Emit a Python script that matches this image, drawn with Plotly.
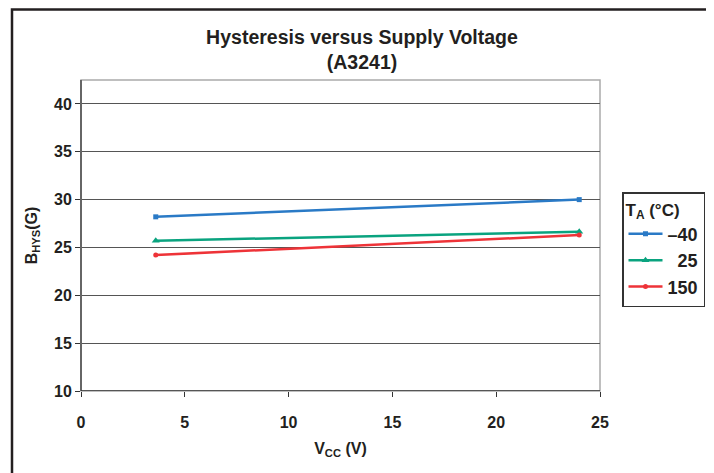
import plotly.graph_objects as go

vcc = [3.6, 24.0]
b_m40 = [28.2, 30.0]
b_25 = [25.7, 26.65]
b_150 = [24.2, 26.3]
series_names = ["\u201340", "  25", "150"]
x_ticks = [0, 5, 10, 15, 20, 25]
y_ticks = [10, 15, 20, 25, 30, 35, 40]

FONT = "Liberation Sans, Arial, sans-serif"
OFF = 8  # page body offset
W, H = 714 - OFF, 473 - OFF
# screen-space plot area
SX0, SX1, SY0, SY1 = 81, 600, 80, 391
L, T = SX0 - OFF, SY0 - OFF
pw, ph = SX1 - SX0, SY1 - SY0
R, B = W - L - pw, H - T - ph

def px(x):
    return (x - SX0) / pw

def py(y):
    return (SY1 - y) / ph

fig = go.Figure()
fig.add_trace(go.Scatter(x=vcc, y=b_m40, name=series_names[0], mode="lines+markers",
                         line=dict(color="#2a7ac6", width=2.5),
                         marker=dict(symbol="square", size=5, color="#2a7ac6")))
fig.add_trace(go.Scatter(x=vcc, y=b_25, name=series_names[1], mode="lines+markers",
                         line=dict(color="#0aa37f", width=2.5),
                         marker=dict(symbol="triangle-up", size=7, color="#0aa37f")))
fig.add_trace(go.Scatter(x=vcc, y=b_150, name=series_names[2], mode="lines+markers",
                         line=dict(color="#ee3338", width=2.5),
                         marker=dict(symbol="circle", size=5, color="#ee3338")))

bold = dict(family=FONT, color="#231f20", weight="bold")

fig.update_layout(
    width=W, height=H,
    margin=dict(l=L, r=R, t=T, b=B, autoexpand=False),
    paper_bgcolor="white", plot_bgcolor="white",
    font=dict(family=FONT, color="#231f20", size=15),
    showlegend=True,
    title=dict(text="Hysteresis versus Supply Voltage<br>(A3241)",
               xref="paper", x=px(362), xanchor="center",
               yref="container", y=1 - (44 - OFF) / H, yanchor="middle",
               font=dict(size=19.5, **bold)),
    legend=dict(x=px(622), y=py(192), xanchor="left", yanchor="top",
                bordercolor="#333333", borderwidth=1.5, bgcolor="white",
                title=dict(text="T<sub>A</sub> (°C)", font=dict(size=17, **bold)),
                font=dict(size=18, **bold),
                itemwidth=34),
    xaxis=dict(range=[0, 25], tickvals=x_ticks,
               showgrid=False, zeroline=False, showline=False,
               ticks="outside", ticklen=5, tickcolor="#333", ticklabelstandoff=12,
               title=dict(text="V<sub>CC</sub> (V)", font=dict(size=16, **bold), standoff=12),
               tickfont=dict(size=16, **bold)),
    yaxis=dict(range=[10, 42.5], tickvals=y_ticks,
               showgrid=True, gridcolor="#555555", gridwidth=1.3, zeroline=False,
               showline=False, ticks="outside", ticklen=5, tickcolor="#333",
               title=dict(text="B<sub>HYS</sub>(G)", font=dict(size=16, **bold), standoff=12),
               tickfont=dict(size=16, **bold)),
    shapes=[
        dict(type="rect", xref="paper", yref="paper", x0=0, x1=1, y0=0, y1=1,
             line=dict(color="#aaaaaa", width=1.5), layer="below"),
        dict(type="line", xref="paper", yref="paper", x0=0, x1=0, y0=0, y1=1,
             line=dict(color="#666666", width=2)),
        dict(type="line", xref="paper", yref="y", x0=0, x1=1, y0=10, y1=10,
             line=dict(color="#333333", width=1.5)),
        dict(type="rect", xref="paper", yref="paper", x0=px(12), x1=px(710),
             y0=py(490), y1=py(9.5), line=dict(color="#231f20", width=2.5)),
    ],
)

fig.write_html("out.html")
